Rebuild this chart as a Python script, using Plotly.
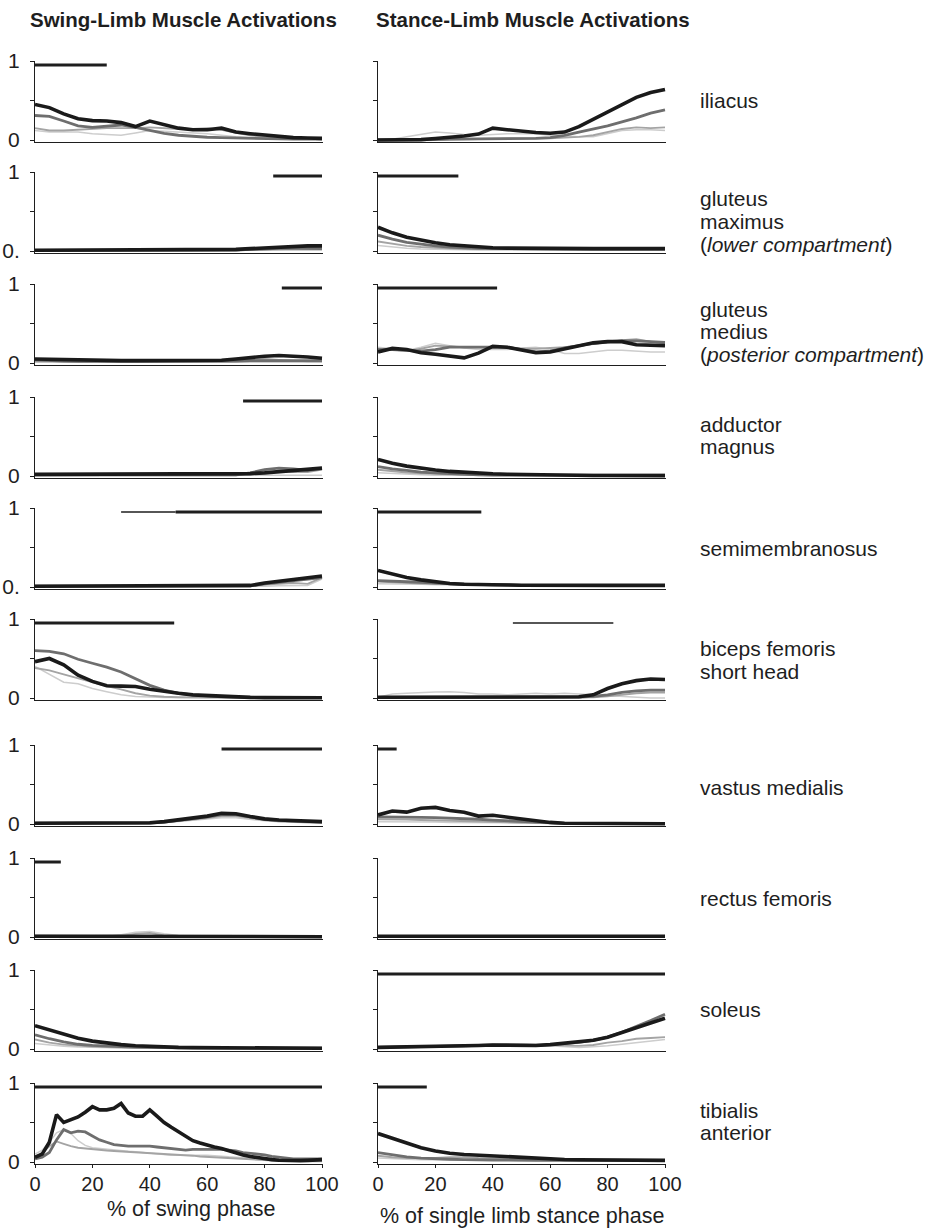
import plotly.graph_objects as go

W, H = 930, 1230

# percent-of-phase sample grids
PCT = [0, 5, 10, 15, 20, 25, 30, 35, 40, 45, 50, 55, 60, 65, 70, 75, 80, 85, 90, 95, 100]
PCT_FINE = [0, 2.5, 5, 7.5, 10, 12.5, 15, 17.5, 20, 22.5, 25, 27.5, 30, 32.5, 35, 37.5, 40,
            42.5, 45, 47.5, 50, 52.5, 55, 57.5, 60, 62.5, 65, 67.5, 70, 72.5, 75, 77.5, 80,
            82.5, 85, 87.5, 90, 92.5, 95, 97.5, 100]

MUSCLES = ["iliacus", "gluteus maximus", "gluteus medius", "adductor magnus",
           "semimembranosus", "biceps femoris short head", "vastus medialis",
           "rectus femoris", "soleus", "tibialis anterior"]

# each panel: [black, dark gray, mid gray, light gray] activation curves
ILIACUS_SWING = [
    [0.45, 0.41, 0.33, 0.27, 0.245, 0.24, 0.22, 0.17, 0.24, 0.19, 0.15, 0.13, 0.13, 0.15, 0.10, 0.08, 0.06, 0.045, 0.03, 0.025, 0.02],
    [0.31, 0.30, 0.24, 0.18, 0.16, 0.175, 0.19, 0.16, 0.12, 0.085, 0.06, 0.045, 0.035, 0.03, 0.025, 0.02, 0.015, 0.012, 0.01, 0.01, 0.01],
    [0.15, 0.12, 0.12, 0.13, 0.14, 0.15, 0.15, 0.15, 0.16, 0.15, 0.14, 0.14, 0.15, 0.13, 0.09, 0.06, 0.04, 0.03, 0.02, 0.015, 0.01],
    [0.12, 0.10, 0.10, 0.10, 0.08, 0.07, 0.06, 0.09, 0.12, 0.11, 0.10, 0.09, 0.08, 0.06, 0.04, 0.03, 0.02, 0.015, 0.01, 0.01, 0.01],
]
ILIACUS_STANCE = [
    [0.0, 0.0, 0.0, 0.005, 0.02, 0.03, 0.05, 0.075, 0.15, 0.13, 0.11, 0.095, 0.085, 0.10, 0.17, 0.26, 0.35, 0.45, 0.54, 0.60, 0.64],
    [0.0, 0.0, 0.0, 0.0, 0.005, 0.01, 0.012, 0.015, 0.015, 0.015, 0.015, 0.02, 0.03, 0.06, 0.10, 0.14, 0.18, 0.23, 0.28, 0.34, 0.38],
    [0.0, 0.0, 0.0, 0.0, 0.0, 0.005, 0.01, 0.01, 0.015, 0.02, 0.02, 0.02, 0.02, 0.03, 0.04, 0.06, 0.10, 0.14, 0.16, 0.15, 0.16],
    [0.0, 0.01, 0.04, 0.07, 0.10, 0.09, 0.07, 0.06, 0.07, 0.08, 0.08, 0.08, 0.06, 0.05, 0.04, 0.04, 0.08, 0.12, 0.13, 0.13, 0.12],
]
GMAX_SWING = [
    [0.01, 0.01, 0.01, 0.01, 0.01, 0.01, 0.01, 0.01, 0.01, 0.01, 0.01, 0.01, 0.01, 0.01, 0.02, 0.03, 0.04, 0.05, 0.06, 0.065, 0.065],
    [0.008, 0.008, 0.008, 0.008, 0.008, 0.008, 0.008, 0.008, 0.008, 0.008, 0.008, 0.008, 0.008, 0.008, 0.012, 0.02, 0.03, 0.035, 0.035, 0.03, 0.03],
    [0.005, 0.005, 0.005, 0.005, 0.005, 0.005, 0.005, 0.005, 0.005, 0.005, 0.005, 0.005, 0.005, 0.005, 0.01, 0.015, 0.02, 0.025, 0.03, 0.03, 0.025],
    [0.003, 0.003, 0.003, 0.003, 0.003, 0.003, 0.003, 0.003, 0.003, 0.003, 0.003, 0.003, 0.003, 0.003, 0.004, 0.005, 0.006, 0.008, 0.01, 0.01, 0.01],
]
GMAX_STANCE = [
    [0.30, 0.23, 0.175, 0.135, 0.105, 0.08, 0.065, 0.05, 0.042, 0.037, 0.034, 0.032, 0.031, 0.03, 0.03, 0.03, 0.03, 0.03, 0.03, 0.03, 0.03],
    [0.20, 0.15, 0.11, 0.085, 0.065, 0.05, 0.04, 0.035, 0.03, 0.028, 0.026, 0.025, 0.025, 0.025, 0.025, 0.025, 0.025, 0.025, 0.025, 0.025, 0.025],
    [0.12, 0.09, 0.065, 0.05, 0.04, 0.03, 0.025, 0.022, 0.02, 0.02, 0.02, 0.02, 0.02, 0.02, 0.02, 0.02, 0.02, 0.02, 0.02, 0.02, 0.02],
    [0.07, 0.05, 0.035, 0.025, 0.02, 0.017, 0.015, 0.015, 0.015, 0.015, 0.015, 0.015, 0.015, 0.015, 0.015, 0.015, 0.015, 0.015, 0.015, 0.015, 0.015],
]
GMED_SWING = [
    [0.05, 0.045, 0.04, 0.035, 0.035, 0.03, 0.03, 0.03, 0.03, 0.03, 0.03, 0.03, 0.03, 0.035, 0.05, 0.07, 0.085, 0.095, 0.09, 0.075, 0.06],
    [0.04, 0.03, 0.025, 0.02, 0.02, 0.02, 0.02, 0.02, 0.02, 0.02, 0.02, 0.02, 0.02, 0.02, 0.025, 0.03, 0.03, 0.03, 0.03, 0.03, 0.03],
    [0.02, 0.02, 0.02, 0.02, 0.02, 0.02, 0.02, 0.02, 0.02, 0.02, 0.02, 0.02, 0.02, 0.02, 0.03, 0.04, 0.05, 0.04, 0.03, 0.02, 0.02],
    [0.01, 0.01, 0.01, 0.01, 0.01, 0.01, 0.01, 0.01, 0.01, 0.01, 0.01, 0.01, 0.01, 0.01, 0.01, 0.01, 0.01, 0.01, 0.01, 0.01, 0.01],
]
GMED_STANCE = [
    [0.14, 0.185, 0.17, 0.13, 0.11, 0.085, 0.065, 0.125, 0.21, 0.20, 0.165, 0.13, 0.14, 0.18, 0.22, 0.255, 0.27, 0.27, 0.23, 0.225, 0.22],
    [0.17, 0.17, 0.16, 0.15, 0.17, 0.20, 0.20, 0.20, 0.20, 0.20, 0.17, 0.14, 0.15, 0.19, 0.22, 0.25, 0.27, 0.28, 0.28, 0.27, 0.26],
    [0.18, 0.17, 0.15, 0.18, 0.22, 0.21, 0.20, 0.20, 0.20, 0.20, 0.18, 0.18, 0.19, 0.20, 0.22, 0.24, 0.26, 0.29, 0.30, 0.27, 0.25],
    [0.20, 0.18, 0.16, 0.20, 0.25, 0.22, 0.19, 0.17, 0.17, 0.17, 0.19, 0.20, 0.17, 0.12, 0.12, 0.14, 0.16, 0.16, 0.15, 0.14, 0.14],
]
ADDMAG_SWING = [
    [0.02, 0.02, 0.02, 0.02, 0.02, 0.02, 0.02, 0.02, 0.02, 0.02, 0.02, 0.02, 0.02, 0.02, 0.02, 0.03, 0.04, 0.055, 0.07, 0.085, 0.10],
    [0.015, 0.015, 0.015, 0.015, 0.015, 0.015, 0.015, 0.015, 0.015, 0.015, 0.015, 0.015, 0.015, 0.015, 0.015, 0.04, 0.08, 0.10, 0.09, 0.07, 0.10],
    [0.01, 0.01, 0.01, 0.01, 0.01, 0.01, 0.01, 0.01, 0.01, 0.01, 0.01, 0.01, 0.01, 0.01, 0.01, 0.02, 0.04, 0.06, 0.05, 0.05, 0.08],
    [0.01, 0.01, 0.01, 0.01, 0.01, 0.01, 0.01, 0.01, 0.01, 0.01, 0.01, 0.01, 0.01, 0.01, 0.01, 0.01, 0.01, 0.01, 0.01, 0.01, 0.01],
]
ADDMAG_STANCE = [
    [0.21, 0.16, 0.125, 0.095, 0.075, 0.058, 0.045, 0.035, 0.028, 0.022, 0.018, 0.014, 0.012, 0.01, 0.008, 0.007, 0.006, 0.005, 0.005, 0.005, 0.005],
    [0.12, 0.09, 0.07, 0.05, 0.04, 0.03, 0.02, 0.015, 0.01, 0.01, 0.01, 0.01, 0.01, 0.01, 0.01, 0.01, 0.01, 0.01, 0.01, 0.01, 0.01],
    [0.08, 0.06, 0.045, 0.035, 0.025, 0.02, 0.015, 0.01, 0.01, 0.01, 0.01, 0.01, 0.01, 0.01, 0.01, 0.01, 0.01, 0.01, 0.01, 0.01, 0.01],
    [0.04, 0.03, 0.02, 0.015, 0.01, 0.01, 0.01, 0.01, 0.01, 0.01, 0.01, 0.01, 0.01, 0.01, 0.01, 0.01, 0.01, 0.01, 0.01, 0.01, 0.01],
]
SEMIMEM_SWING = [
    [0.01, 0.01, 0.01, 0.01, 0.01, 0.01, 0.01, 0.01, 0.012, 0.015, 0.015, 0.015, 0.015, 0.015, 0.015, 0.02, 0.05, 0.075, 0.095, 0.115, 0.14],
    [0.01, 0.01, 0.01, 0.01, 0.01, 0.01, 0.01, 0.01, 0.01, 0.01, 0.01, 0.01, 0.01, 0.01, 0.012, 0.015, 0.04, 0.06, 0.08, 0.10, 0.12],
    [0.008, 0.008, 0.008, 0.008, 0.008, 0.008, 0.008, 0.008, 0.008, 0.008, 0.008, 0.008, 0.008, 0.008, 0.008, 0.01, 0.03, 0.04, 0.05, 0.04, 0.12],
    [0.005, 0.005, 0.005, 0.005, 0.005, 0.005, 0.005, 0.005, 0.005, 0.005, 0.005, 0.005, 0.005, 0.005, 0.005, 0.005, 0.01, 0.015, 0.02, 0.02, 0.10],
]
SEMIMEM_STANCE = [
    [0.21, 0.16, 0.12, 0.09, 0.065, 0.045, 0.035, 0.028, 0.025, 0.025, 0.022, 0.02, 0.02, 0.02, 0.02, 0.02, 0.02, 0.02, 0.02, 0.02, 0.02],
    [0.08, 0.075, 0.07, 0.06, 0.05, 0.04, 0.035, 0.03, 0.03, 0.03, 0.02, 0.02, 0.02, 0.02, 0.02, 0.02, 0.02, 0.02, 0.02, 0.02, 0.02],
    [0.07, 0.06, 0.05, 0.045, 0.04, 0.035, 0.03, 0.02, 0.02, 0.02, 0.02, 0.02, 0.02, 0.02, 0.02, 0.02, 0.02, 0.02, 0.02, 0.02, 0.02],
    [0.04, 0.04, 0.035, 0.035, 0.03, 0.03, 0.03, 0.025, 0.02, 0.02, 0.02, 0.02, 0.02, 0.02, 0.02, 0.02, 0.02, 0.02, 0.02, 0.02, 0.02],
]
BFSH_SWING = [
    [0.46, 0.50, 0.42, 0.29, 0.21, 0.155, 0.15, 0.145, 0.11, 0.08, 0.06, 0.04, 0.03, 0.02, 0.012, 0.008, 0.005, 0.004, 0.003, 0.003, 0.003],
    [0.60, 0.59, 0.56, 0.49, 0.44, 0.39, 0.33, 0.24, 0.16, 0.10, 0.06, 0.04, 0.025, 0.015, 0.01, 0.005, 0.005, 0.005, 0.005, 0.005, 0.005],
    [0.38, 0.35, 0.30, 0.25, 0.20, 0.15, 0.11, 0.06, 0.03, 0.015, 0.01, 0.005, 0.005, 0.005, 0.005, 0.005, 0.005, 0.005, 0.005, 0.005, 0.005],
    [0.40, 0.30, 0.20, 0.18, 0.12, 0.08, 0.04, 0.02, 0.01, 0.005, 0.005, 0.005, 0.005, 0.005, 0.005, 0.005, 0.005, 0.005, 0.005, 0.005, 0.005],
]
BFSH_STANCE = [
    [0.01, 0.01, 0.01, 0.01, 0.01, 0.01, 0.01, 0.01, 0.01, 0.01, 0.01, 0.01, 0.012, 0.012, 0.015, 0.04, 0.12, 0.18, 0.22, 0.24, 0.235],
    [0.005, 0.005, 0.005, 0.005, 0.005, 0.005, 0.005, 0.005, 0.005, 0.005, 0.005, 0.005, 0.005, 0.008, 0.01, 0.02, 0.04, 0.07, 0.09, 0.10, 0.10],
    [0.005, 0.005, 0.005, 0.005, 0.005, 0.005, 0.005, 0.005, 0.005, 0.005, 0.005, 0.005, 0.005, 0.005, 0.008, 0.01, 0.02, 0.04, 0.06, 0.07, 0.07],
    [0.01, 0.05, 0.06, 0.07, 0.075, 0.08, 0.07, 0.05, 0.05, 0.04, 0.05, 0.06, 0.05, 0.06, 0.05, 0.04, 0.03, 0.02, 0.01, 0.0, 0.0],
]
VMED_SWING = [
    [0.01, 0.01, 0.01, 0.01, 0.01, 0.01, 0.01, 0.01, 0.015, 0.03, 0.05, 0.075, 0.10, 0.135, 0.13, 0.095, 0.065, 0.05, 0.04, 0.035, 0.03],
    [0.01, 0.01, 0.01, 0.01, 0.01, 0.01, 0.01, 0.01, 0.012, 0.025, 0.045, 0.07, 0.09, 0.12, 0.12, 0.09, 0.06, 0.045, 0.035, 0.03, 0.025],
    [0.008, 0.008, 0.008, 0.008, 0.008, 0.008, 0.008, 0.008, 0.01, 0.02, 0.035, 0.055, 0.075, 0.10, 0.10, 0.075, 0.05, 0.035, 0.025, 0.02, 0.02],
    [0.005, 0.005, 0.005, 0.005, 0.005, 0.005, 0.005, 0.005, 0.008, 0.015, 0.03, 0.045, 0.06, 0.08, 0.08, 0.06, 0.04, 0.03, 0.02, 0.015, 0.015],
]
VMED_STANCE = [
    [0.115, 0.165, 0.15, 0.20, 0.21, 0.17, 0.15, 0.10, 0.11, 0.085, 0.06, 0.035, 0.02, 0.01, 0.008, 0.005, 0.004, 0.003, 0.003, 0.003, 0.003],
    [0.09, 0.09, 0.09, 0.085, 0.08, 0.075, 0.07, 0.06, 0.05, 0.04, 0.03, 0.02, 0.01, 0.008, 0.005, 0.005, 0.005, 0.005, 0.005, 0.005, 0.005],
    [0.06, 0.06, 0.055, 0.05, 0.045, 0.04, 0.035, 0.03, 0.025, 0.02, 0.015, 0.01, 0.005, 0.005, 0.005, 0.005, 0.005, 0.005, 0.005, 0.005, 0.005],
    [0.03, 0.03, 0.03, 0.025, 0.025, 0.02, 0.02, 0.02, 0.015, 0.015, 0.01, 0.01, 0.005, 0.005, 0.005, 0.005, 0.005, 0.005, 0.005, 0.005, 0.005],
]
RF_SWING = [
    [0.01, 0.01, 0.01, 0.01, 0.01, 0.01, 0.01, 0.01, 0.01, 0.01, 0.01, 0.01, 0.008, 0.008, 0.008, 0.006, 0.005, 0.005, 0.004, 0.004, 0.004],
    [0.01, 0.01, 0.01, 0.01, 0.01, 0.01, 0.01, 0.012, 0.012, 0.01, 0.01, 0.01, 0.01, 0.01, 0.01, 0.008, 0.008, 0.008, 0.008, 0.008, 0.008],
    [0.008, 0.008, 0.008, 0.008, 0.008, 0.008, 0.015, 0.04, 0.05, 0.02, 0.01, 0.008, 0.008, 0.008, 0.008, 0.008, 0.008, 0.008, 0.008, 0.008, 0.008],
    [0.005, 0.005, 0.005, 0.005, 0.005, 0.005, 0.03, 0.06, 0.07, 0.04, 0.02, 0.01, 0.005, 0.005, 0.005, 0.005, 0.005, 0.005, 0.005, 0.005, 0.005],
]
RF_STANCE = [
    [0.01, 0.01, 0.01, 0.01, 0.01, 0.01, 0.01, 0.01, 0.01, 0.01, 0.01, 0.01, 0.01, 0.01, 0.01, 0.008, 0.008, 0.006, 0.006, 0.008, 0.01],
    [0.008, 0.008, 0.008, 0.008, 0.008, 0.008, 0.008, 0.008, 0.008, 0.008, 0.008, 0.008, 0.008, 0.008, 0.008, 0.008, 0.008, 0.008, 0.008, 0.008, 0.008],
    [0.006, 0.006, 0.006, 0.006, 0.006, 0.006, 0.006, 0.006, 0.006, 0.006, 0.006, 0.006, 0.006, 0.006, 0.006, 0.006, 0.006, 0.006, 0.006, 0.006, 0.006],
    [0.005, 0.005, 0.005, 0.005, 0.005, 0.005, 0.005, 0.005, 0.005, 0.005, 0.005, 0.005, 0.005, 0.005, 0.005, 0.005, 0.005, 0.005, 0.005, 0.005, 0.005],
]
SOL_SWING = [
    [0.295, 0.24, 0.18, 0.135, 0.10, 0.075, 0.055, 0.042, 0.032, 0.025, 0.02, 0.017, 0.015, 0.013, 0.012, 0.012, 0.011, 0.01, 0.01, 0.01, 0.01],
    [0.18, 0.13, 0.09, 0.06, 0.045, 0.035, 0.03, 0.025, 0.02, 0.018, 0.015, 0.015, 0.012, 0.012, 0.01, 0.01, 0.01, 0.01, 0.01, 0.01, 0.01],
    [0.12, 0.08, 0.055, 0.04, 0.03, 0.025, 0.02, 0.018, 0.015, 0.015, 0.012, 0.012, 0.01, 0.01, 0.01, 0.01, 0.01, 0.01, 0.01, 0.01, 0.01],
    [0.07, 0.05, 0.035, 0.025, 0.02, 0.015, 0.012, 0.01, 0.01, 0.01, 0.01, 0.01, 0.01, 0.01, 0.01, 0.01, 0.01, 0.01, 0.01, 0.01, 0.01],
]
SOL_STANCE = [
    [0.02, 0.022, 0.025, 0.027, 0.03, 0.032, 0.035, 0.045, 0.05, 0.045, 0.04, 0.045, 0.055, 0.07, 0.085, 0.11, 0.15, 0.21, 0.27, 0.33, 0.39],
    [0.02, 0.022, 0.025, 0.027, 0.03, 0.035, 0.04, 0.045, 0.05, 0.05, 0.045, 0.045, 0.055, 0.07, 0.085, 0.11, 0.15, 0.21, 0.28, 0.36, 0.44],
    [0.02, 0.022, 0.025, 0.03, 0.035, 0.04, 0.045, 0.05, 0.06, 0.065, 0.06, 0.055, 0.05, 0.04, 0.04, 0.05, 0.08, 0.10, 0.13, 0.14, 0.15],
    [0.02, 0.025, 0.03, 0.035, 0.038, 0.04, 0.04, 0.045, 0.05, 0.055, 0.06, 0.05, 0.04, 0.03, 0.02, 0.03, 0.04, 0.06, 0.08, 0.10, 0.12],
]
TA_SWING = [
    [0.06, 0.10, 0.25, 0.60, 0.50, 0.53, 0.57, 0.63, 0.70, 0.66, 0.66, 0.68, 0.74, 0.62, 0.58, 0.58,
     0.66, 0.58, 0.50, 0.44, 0.38, 0.32, 0.27, 0.24, 0.21, 0.19, 0.17, 0.14, 0.11, 0.09, 0.07,
     0.055, 0.04, 0.03, 0.022, 0.018, 0.017, 0.017, 0.02, 0.025, 0.03],
    [0.04, 0.06, 0.12, 0.28, 0.41, 0.37, 0.39, 0.38, 0.33, 0.28, 0.25, 0.22, 0.21, 0.20, 0.20, 0.20,
     0.20, 0.19, 0.18, 0.17, 0.16, 0.15, 0.16, 0.16, 0.16, 0.16, 0.16, 0.15, 0.14, 0.12, 0.11,
     0.10, 0.09, 0.07, 0.06, 0.05, 0.04, 0.04, 0.04, 0.04, 0.04],
    [0.06, 0.12, 0.20, 0.26, 0.23, 0.20, 0.18, 0.17, 0.16, 0.15, 0.145, 0.14, 0.135, 0.13, 0.125, 0.12,
     0.115, 0.11, 0.10, 0.095, 0.09, 0.085, 0.08, 0.07, 0.065, 0.06, 0.05, 0.045, 0.04, 0.035, 0.03,
     0.025, 0.02, 0.018, 0.015, 0.015, 0.012, 0.012, 0.01, 0.01, 0.01],
    [0.10, 0.15, 0.25, 0.37, 0.41, 0.36, 0.27, 0.21, 0.18, 0.17, 0.16, 0.15, 0.14, 0.135, 0.13, 0.12,
     0.11, 0.10, 0.09, 0.085, 0.085, 0.085, 0.09, 0.09, 0.085, 0.08, 0.07, 0.065, 0.06, 0.055, 0.05,
     0.045, 0.04, 0.035, 0.03, 0.03, 0.025, 0.025, 0.02, 0.02, 0.02],
]
TA_STANCE = [
    [0.36, 0.30, 0.23, 0.18, 0.14, 0.11, 0.095, 0.085, 0.075, 0.065, 0.055, 0.045, 0.038, 0.032, 0.028, 0.025, 0.022, 0.02, 0.02, 0.02, 0.02],
    [0.12, 0.09, 0.065, 0.05, 0.04, 0.035, 0.03, 0.025, 0.025, 0.025, 0.02, 0.02, 0.02, 0.02, 0.02, 0.02, 0.02, 0.02, 0.02, 0.02, 0.02],
    [0.08, 0.06, 0.05, 0.05, 0.05, 0.06, 0.06, 0.05, 0.045, 0.04, 0.035, 0.03, 0.025, 0.02, 0.02, 0.02, 0.02, 0.02, 0.02, 0.02, 0.02],
    [0.05, 0.04, 0.035, 0.03, 0.03, 0.028, 0.026, 0.025, 0.024, 0.022, 0.02, 0.02, 0.02, 0.02, 0.02, 0.02, 0.02, 0.02, 0.02, 0.02, 0.02],
]

SWING_PANELS = [ILIACUS_SWING, GMAX_SWING, GMED_SWING, ADDMAG_SWING, SEMIMEM_SWING,
                BFSH_SWING, VMED_SWING, RF_SWING, SOL_SWING, TA_SWING]
STANCE_PANELS = [ILIACUS_STANCE, GMAX_STANCE, GMED_STANCE, ADDMAG_STANCE, SEMIMEM_STANCE,
                 BFSH_STANCE, VMED_STANCE, RF_STANCE, SOL_STANCE, TA_STANCE]

# EMG on-periods (% of phase): thick bars, plus thin bars for weaker activity
SWING_ON = [[(0, 25)], [(83, 100)], [(86, 100)], [(72.5, 100)], [(49, 100)],
            [(-1.3, 48.5)], [(65, 100)], [(0, 9)], [], [(0, 100)]]
SWING_ON_THIN = [[], [], [], [], [(30, 49)], [], [], [], [], []]
STANCE_ON = [[], [(0, 28)], [(0, 41.5)], [], [(0, 36)], [], [(0, 6.5)], [], [(0, 100)], [(0, 17)]]
STANCE_ON_THIN = [[], [], [], [], [], [(47, 82)], [], [], [], []]

# y-axis "0" label text per row (two rows carry a trailing dot)
ZERO_LABELS = ["0", "0.", "0", "0", "0.", "0", "0", "0", "0", "0"]

X_TICKS = [0, 20, 40, 60, 80, 100]

# ---------------------------------------------------------------- layout
FONT = "Liberation Sans, Arial, Helvetica, sans-serif"
INK = "#1e1e1e"
LINE_STYLES = [  # black, dark gray, mid gray, light gray
    dict(color="#1a1a1a", width=3.6),
    dict(color="#6e6e6e", width=2.8),
    dict(color="#a4a4a4", width=1.9),
    dict(color="#cdcdcd", width=1.5),
]
BAR_LEVEL = 0.95
ZERO_PX = [140, 251, 363, 476, 587, 698, 824, 937, 1049, 1162]
ROW_PX = 79
PX_PER_PCT = 2.87
COL_X0 = [35, 378]
X_RANGE = [0, 100.5]
Y_RANGE = [-0.025, 1.0]

fig = go.Figure()
layout = {}

for r in range(10):
    for c in range(2):
        idx = r * 2 + c + 1
        xa = "x" if idx == 1 else f"x{idx}"
        ya = "y" if idx == 1 else f"y{idx}"
        panel = SWING_PANELS[r] if c == 0 else STANCE_PANELS[r]
        # draw light curves first so the black curve sits on top
        for s in range(3, -1, -1):
            vals = panel[s]
            xs = PCT_FINE if len(vals) == len(PCT_FINE) else PCT
            fig.add_trace(go.Scatter(x=xs, y=vals, mode="lines", line=LINE_STYLES[s],
                                     xaxis=xa, yaxis=ya, showlegend=False, hoverinfo="skip"))
        bars = SWING_ON[r] if c == 0 else STANCE_ON[r]
        thin = SWING_ON_THIN[r] if c == 0 else STANCE_ON_THIN[r]
        for (a, b) in thin:
            fig.add_trace(go.Scatter(x=[a, b], y=[BAR_LEVEL, BAR_LEVEL], mode="lines",
                                     line=dict(color=INK, width=1.6), xaxis=xa, yaxis=ya,
                                     showlegend=False, hoverinfo="skip"))
        for (a, b) in bars:
            fig.add_trace(go.Scatter(x=[a, b], y=[BAR_LEVEL, BAR_LEVEL], mode="lines",
                                     line=dict(color=INK, width=3), xaxis=xa, yaxis=ya,
                                     showlegend=False, hoverinfo="skip"))

        x0 = COL_X0[c] + X_RANGE[0] * PX_PER_PCT
        x1 = COL_X0[c] + X_RANGE[1] * PX_PER_PCT
        ybot = ZERO_PX[r] - Y_RANGE[0] * ROW_PX
        ytop = ZERO_PX[r] - Y_RANGE[1] * ROW_PX
        bottom_row = r == 9
        layout["xaxis" if idx == 1 else f"xaxis{idx}"] = dict(
            domain=[x0 / W, x1 / W], range=X_RANGE, anchor=ya, automargin=False,
            showline=True, linecolor=INK, linewidth=1, showgrid=False, zeroline=False,
            ticks="outside" if bottom_row else "", ticklen=3, tickcolor=INK,
            tickvals=X_TICKS, showticklabels=bottom_row,
            tickfont=dict(family=FONT, size=20, color=INK), ticklabelstandoff=-1,
        )
        layout["yaxis" if idx == 1 else f"yaxis{idx}"] = dict(
            domain=[1 - ybot / H, 1 - ytop / H], range=Y_RANGE, anchor=xa, automargin=False,
            showline=True, linecolor=INK, linewidth=1, showgrid=False, zeroline=False,
            ticks="outside", ticklen=4, tickcolor=INK,
            tickvals=[0, 0.5, 1], ticktext=[ZERO_LABELS[r], "", "1"],
            showticklabels=(c == 0),
            tickfont=dict(family=FONT, size=21, color=INK), ticklabelstandoff=6,
        )

ann = []


def label(text, px, py, size=20, xanchor="left", bold=False):
    ann.append(dict(text=f"<b>{text}</b>" if bold else text, xref="paper", yref="paper",
                    x=px / W, y=1 - py / H, xanchor=xanchor, yanchor="middle",
                    showarrow=False, font=dict(family=FONT, size=size, color=INK)))


label("Swing-Limb Muscle Activations", 183, 20, size=20.5, xanchor="center", bold=True)
label("Stance-Limb Muscle Activations", 533, 20, size=20.5, xanchor="center", bold=True)
label("% of swing phase", 191, 1209, size=21.5, xanchor="center")
label("% of single limb stance phase", 522, 1216, size=21.5, xanchor="center")

NAME_LINES = [
    ["iliacus"],
    ["gluteus", "maximus", "(<i>lower compartment</i>)"],
    ["gluteus", "medius", "(<i>posterior compartment</i>)"],
    ["adductor", "magnus"],
    ["semimembranosus"],
    ["biceps femoris", "short head"],
    ["vastus medialis"],
    ["rectus femoris"],
    ["soleus"],
    ["tibialis", "anterior"],
]
NAME_FIRST_PX = [100, 199, 309, 424, 548, 649, 787, 898, 1009, 1110]
for lines, py in zip(NAME_LINES, NAME_FIRST_PX):
    for k, t in enumerate(lines):
        label(t, 698, py + k * 22.5, size=21)

fig.update_layout(
    template="none",
    width=W, height=H, margin=dict(l=0, r=0, t=0, b=0, autoexpand=False),
    paper_bgcolor="white", plot_bgcolor="white",
    annotations=ann, **layout,
)
fig.write_html("out.html")
